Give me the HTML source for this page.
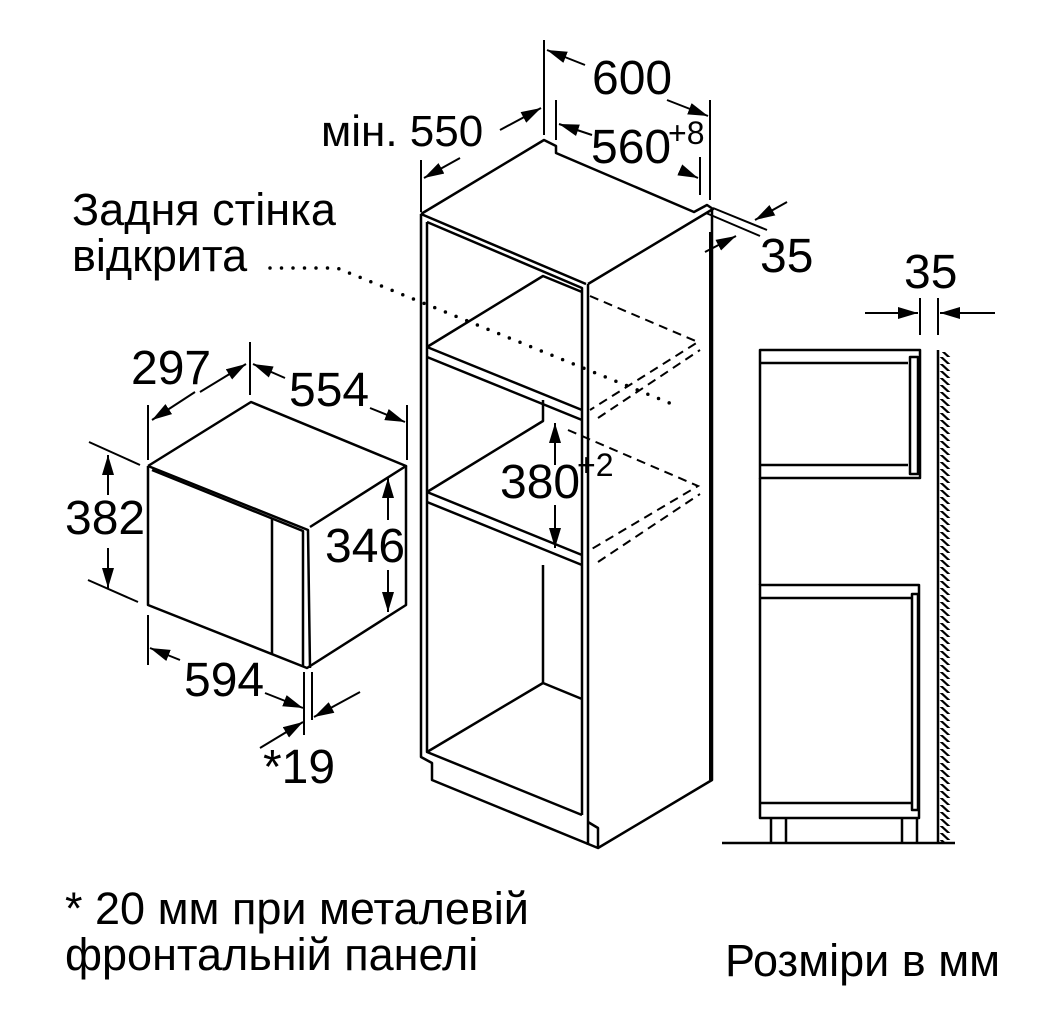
<!DOCTYPE html>
<html><head><meta charset="utf-8"><style>
html,body{margin:0;padding:0;background:#fff;width:1044px;height:1010px;overflow:hidden}
svg{display:block}
text{font-family:"Liberation Sans",sans-serif;fill:#000}
</style></head><body>
<svg width="1044" height="1010" viewBox="0 0 1044 1010" xmlns="http://www.w3.org/2000/svg">
<defs>
<marker id="b" viewBox="0 0 20 12" refX="20" refY="6" markerWidth="20" markerHeight="12" orient="auto" markerUnits="userSpaceOnUse">
<path d="M0,0 L20,6 L0,12 z" fill="#000"/></marker>
<pattern id="h" width="14" height="7" patternUnits="userSpaceOnUse">
<line x1="0" y1="-3" x2="14" y2="10" stroke="#000" stroke-width="2.2"/></pattern>
</defs>
<g fill="none" stroke="#000" stroke-width="2.5" stroke-linejoin="round">
<path d="M421,214 L544,140 L556,146 L556,153 L694,212 L707,205 L713,209 L588,284"/>
<path d="M421,214 L586,284"/>
<path d="M421,214 L421,757 L432,763 L432,780 L598,848 L598,828 L588,822"/>
<path d="M427,222 L427,752 L582,815"/>
<path d="M427,222 L582,288 L582,815"/>
<path d="M588,284 L588,845"/>
<path d="M598,848 L712,780 L712,210"/>
<path d="M427,347 L543,276 L582,292"/>
<path d="M427,347 L582,410"/><path d="M427,357 L582,420"/>
<path d="M427,492 L543,421 L543,400"/>
<path d="M427,492 L582,555"/><path d="M427,502 L582,565"/>
<path d="M543,565 L543,683 L582,699"/>
<path d="M427,752 L543,683"/>
<rect x="760" y="350" width="160" height="128"/>
<path d="M760,363 L908,363 M760,465 L908,465"/>
<rect x="910" y="357" width="8" height="117"/>
<path d="M760,478 L760,585"/>
<rect x="760" y="585" width="159" height="233"/>
<path d="M760,598 L912,598 M760,803 L912,803"/>
<rect x="912" y="594" width="6" height="216"/>
<path d="M771,818 V843 M786,818 V843 M902,818 V843 M917,818 V843"/>
<path d="M722,843 L955,843"/>
<path d="M938,350 L938,843"/>
<path d="M148,466 L251,402 L406,466 L310,527"/>
<path d="M148,466 L148,605 L307,668 L406,605 L406,466"/>
<path d="M152,470 L303,531 L303,666"/>
<path d="M148,466 L308,530 L310,668"/>
<path d="M272,518 L272,655"/>
</g>
<rect x="939" y="352" width="13" height="490" fill="url(#h)"/>
<g fill="none" stroke="#000" stroke-width="2" stroke-dasharray="9,6">
<path d="M590,296 L698,342 L590,410"/>
<path d="M598,418 L700,350"/>
<path d="M568,430 L698,486 L590,550"/>
<path d="M598,562 L700,494"/>
</g>
<path d="M270,268 L337,268 L672,404" fill="none" stroke="#000" stroke-width="3.5" stroke-dasharray="0,11.5" stroke-linecap="round"/>
<g fill="none" stroke="#000" stroke-width="2">
<path d="M544,40 V135 M556,100 V140 M700,157 V195 M710,100 V200 M710,232 V780"/>
<path d="M421,160 V212"/>
<path d="M713,208 L767,230 M706,213 L760,236"/>
<path d="M148,405 V460 M250,342 V395 M407,405 V460"/>
<path d="M89,442 L140,465 M88,580 L138,602"/>
<path d="M148,615 V665 M304,672 V735 M312,672 V720"/>
<path d="M920,298 V335 M938,298 V335"/>
</g>
<g fill="none" stroke="#000" stroke-width="2" marker-end="url(#b)">
<path d="M585,65 L547,50"/>
<path d="M667,100 L708,116"/>
<path d="M592,135 L559,124"/>
<path d="M680,170 L698,178"/>
<path d="M500,130 L541,108"/>
<path d="M460,158 L424,178"/>
<path d="M787,202 L755,220"/>
<path d="M705,252 L736,236"/>
<path d="M200,392 L246,364"/>
<path d="M195,392 L152,420"/>
<path d="M285,378 L253,364"/>
<path d="M370,408 L405,422"/>
<path d="M108,495 L108,455"/>
<path d="M108,548 L108,588"/>
<path d="M388,520 L388,478"/>
<path d="M388,570 L388,612"/>
<path d="M180,660 L150,648"/>
<path d="M265,693 L303,708"/>
<path d="M360,692 L314,717"/>
<path d="M260,748 L303,722"/>
<path d="M555,465 L555,423"/>
<path d="M555,505 L555,548"/>
<path d="M865,313 L918,313"/>
<path d="M995,313 L940,313"/>
</g>
<g font-size="48">
<text x="592" y="94">600</text>
<text x="321" y="146" font-size="44">мін. 550</text>
<text x="591" y="163">560</text><text x="668" y="144" font-size="32">+8</text>
<text x="760" y="272">35</text>
<text x="904" y="288">35</text>
<text x="131" y="384">297</text>
<text x="289" y="406">554</text>
<text x="65" y="534">382</text>
<text x="325" y="562">346</text>
<text x="184" y="696">594</text>
<text x="263" y="783">*19</text>
<text x="500" y="498">380</text><text x="577" y="476" font-size="32">+2</text>
</g>
<g font-size="45">
<text x="72" y="225">Задня стінка</text>
<text x="72" y="271">відкрита</text>
<text x="65" y="924">* 20 мм при металевій</text>
<text x="65" y="970">фронтальній панелі</text>
<text x="725" y="976">Розміри в мм</text>
</g>
</svg>
</body></html>
